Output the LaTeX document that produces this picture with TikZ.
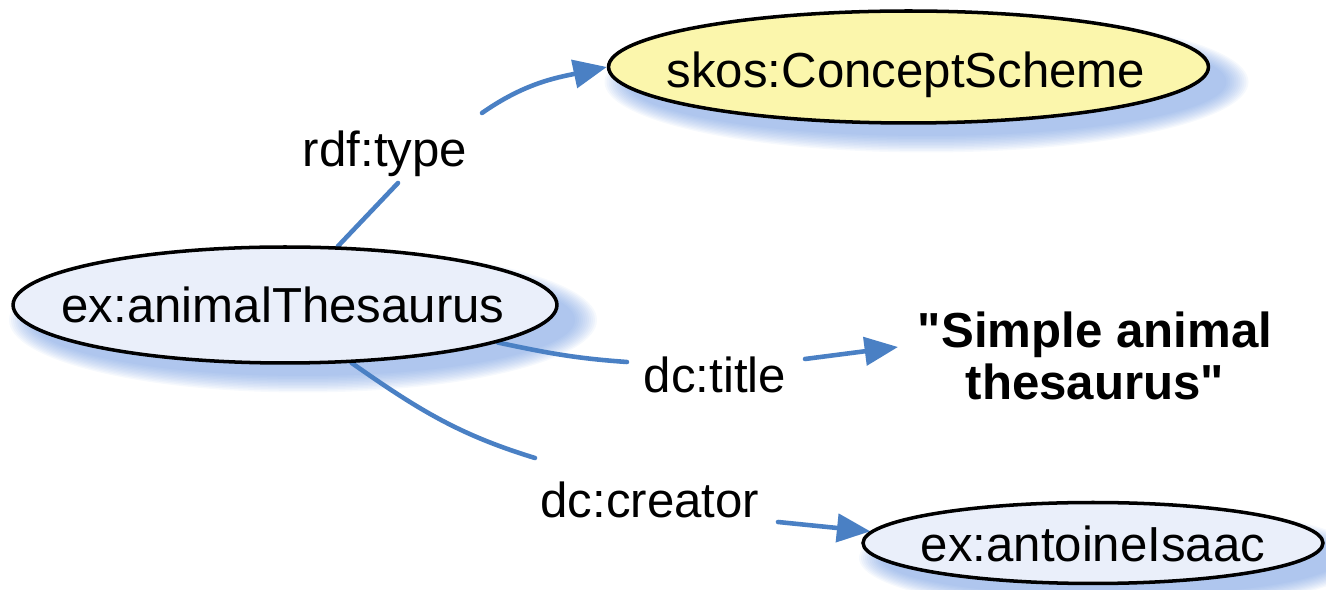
\documentclass[tikz,border=0pt]{standalone}
\usepackage{fontspec}
\setmainfont{Liberation Sans}[Ligatures=TeXOff]
\usetikzlibrary{arrows.meta,shapes.geometric,backgrounds}

\definecolor{linkblue}{RGB}{74,128,196}
\definecolor{glowblue}{RGB}{100,145,222}
\definecolor{classfill}{RGB}{251,246,172}
\definecolor{resfill}{RGB}{234,239,250}

\tikzset{
  entity/.style={ellipse, draw=black, line width=2pt, inner sep=0pt},
  word/.style={font=\fontsize{28}{30}\selectfont, inner sep=0pt, anchor=base},
  literal/.style={font=\fontsize{28}{30}\selectfont\bfseries, align=center, inner sep=0pt},
  link/.style={draw=linkblue, line width=2.6pt, line cap=round},
  linkarrow/.style={link, -{Triangle[length=19pt,width=16pt]}},
}

% soft blue glow below and to the right of an ellipse
% #1 node name, #2 x radius (px), #3 y radius (px)
\newcommand\nodeglow[3]{%
  \foreach \k in {1,...,12}{%
    \fill[glowblue, opacity=0.06]
      ([xshift=0.36cm,yshift=-0.30cm]#1.center)
      ellipse [x radius={(#2+24-2*\k)*0.02cm}, y radius={(#3+16-1.5*\k)*0.02cm}];
  }%
}

\begin{document}
\begin{tikzpicture}[x=0.02cm,y=-0.02cm]
\useasboundingbox (0,0) rectangle (1326,590);

% resources and class
\node[entity, fill=classfill, minimum width=12cm, minimum height=2.24cm] (scheme) at (908.5,67) {};
\node[entity, fill=resfill, minimum width=10.88cm, minimum height=2.32cm] (thes) at (285,305) {};
\node[entity, fill=resfill, minimum width=9.2cm, minimum height=1.62cm] (isaac) at (1093,543) {};

\node[word] (schemeT) at (906,88) {skos:ConceptScheme};
\node[word] (thesT) at (283,323) {ex:animalThesaurus};
\node[word] (isaacT) at (1093,562) {ex:antoineIsaac};

% property labels
\node[word] (typeL) at (385,167) {rdf:type};
\node[word] (titleL) at (715,393) {dc:title};
\node[word] (creatorL) at (650,518) {dc:creator};

% literal value
\node[literal] (lit) at (1095,356) {"Simple animal\\thesaurus"};

% free ends of the broken connectors
\coordinate (typeA) at (398,183);
\coordinate (typeB) at (482,113);
\coordinate (titleA) at (627,362);
\coordinate (titleB) at (805,359);
\coordinate (titleTip) at (898,347);
\coordinate (creatorA) at (535,458);
\coordinate (creatorB) at (778,522);

\begin{scope}[on background layer]
  \nodeglow{scheme}{300}{56}
  \nodeglow{thes}{272}{58}
  \nodeglow{isaac}{230}{40}

  \draw[link] (thes.48) -- (typeA);
  \draw[linkarrow] (typeB) to[out=35,in=192] (scheme.west);

  \draw[link] (thes.-10) to[out=-12,in=176] (titleA);
  \draw[linkarrow] (titleB) -- (titleTip);

  \draw[link] (thes.-41) to[out=-35,in=163] (creatorA);
  \draw[linkarrow] (creatorB) -- (isaac.177);
\end{scope}
\end{tikzpicture}
\end{document}
